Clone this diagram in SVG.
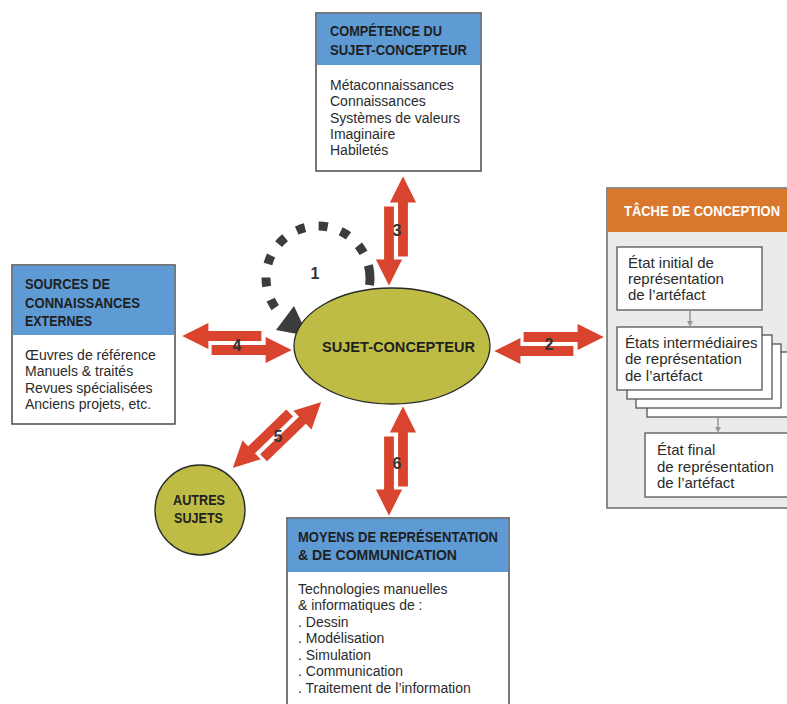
<svg xmlns="http://www.w3.org/2000/svg" xmlns:xlink="http://www.w3.org/1999/xlink" width="787" height="704" viewBox="0 0 787 704">
<style>
  .box{fill:#ffffff;stroke:#4a4a4a;stroke-width:1.5}
  .hdr{fill:#5e9ad3}
  .ht{font-family:"Liberation Sans",Arial,sans-serif;font-weight:bold;font-size:14px;fill:#1f1f1f}
  .bt{font-family:"Liberation Sans",Arial,sans-serif;font-size:14px;fill:#2b2b2b}
  .rt{font-family:"Liberation Sans",Arial,sans-serif;font-size:15px;fill:#2b2b2b}
  .num{font-family:"Liberation Sans",Arial,sans-serif;font-weight:bold;font-size:16px;fill:#333333;text-anchor:middle}
  .olive{fill:#bebc45;stroke:#2a2a2a;stroke-width:1.3}
  .red{fill:#d8442d;stroke:#ffffff;stroke-width:1.2}
  .inner{fill:#ffffff;stroke:#555555;stroke-width:1.3}
  .small{stroke:#9a9a9a;stroke-width:1.6;fill:none}
</style>
<defs>
  <g id="dbl">
    <polygon class="red" points="-26,-12.5 28,-12.5 28,-21 56,-7 28,7 28,-1.5 -26,-1.5"/>
    <polygon class="red" points="25,1.5 -28,1.5 -28,-7 -56,7 -28,21 -28,12.5 25,12.5"/>
  </g>
  <marker id="sm" markerWidth="6" markerHeight="6" refX="3" refY="3" orient="auto" markerUnits="userSpaceOnUse">
    <path d="M0,0 L6,3 L0,6 Z" fill="#9a9a9a"/>
  </marker>
</defs>
<rect width="787" height="704" fill="#ffffff"/>

<g id="connectors">
  <use xlink:href="#dbl" href="#dbl" transform="translate(549,344)"/>
  <use xlink:href="#dbl" href="#dbl" transform="matrix(0,-1,-1,0,396,231)"/>
  <use xlink:href="#dbl" href="#dbl" transform="translate(237,343) scale(1,-1)"/>
  <use xlink:href="#dbl" href="#dbl" transform="matrix(0.719,-0.695,-0.695,-0.719,277,435)"/>
  <use xlink:href="#dbl" href="#dbl" transform="matrix(0,-1,-1,0,396,461)"/>
  <g id="loop1">
    <path d="M369.5,285.2 A52,52 0 1 0 286,319" fill="none" stroke="#3c3c3c" stroke-width="9" stroke-dasharray="20 13.5 9 13.7 9 13.7 9 13.7 9 13.7 9 13.7 9 13.7 9 13.7 9 40"/>
    <polygon points="308,336 276,330 294,306" fill="#3c3c3c"/>
  </g>
  <text class="num" x="315" y="279">1</text>
  <text class="num" x="549" y="350">2</text>
  <text class="num" x="397" y="236">3</text>
  <text class="num" x="237" y="351">4</text>
  <text class="num" x="278" y="442">5</text>
  <text class="num" x="397" y="469">6</text>
</g>

<g id="sujet">
  <ellipse class="olive" cx="392" cy="346" rx="98" ry="58"/>
  <text class="ht" x="322" y="352" font-size="16" textLength="153" lengthAdjust="spacingAndGlyphs">SUJET-CONCEPTEUR</text>
</g>

<g id="autres">
  <circle class="olive" cx="200" cy="510" r="45"/>
  <text class="ht" x="173" y="505" textLength="52" lengthAdjust="spacingAndGlyphs">AUTRES</text>
  <text class="ht" x="174" y="523" textLength="49" lengthAdjust="spacingAndGlyphs">SUJETS</text>
</g>

<g id="competence">
  <rect class="box" x="316" y="13" width="165" height="158"/>
  <rect class="hdr" x="316.75" y="13.75" width="163.5" height="51.25"/>
  <text class="ht" x="330" y="36" textLength="112" lengthAdjust="spacingAndGlyphs">COMPÉTENCE DU</text>
  <text class="ht" x="330" y="55" textLength="137" lengthAdjust="spacingAndGlyphs">SUJET-CONCEPTEUR</text>
  <text class="bt" x="330" y="90" font-size="14.4">Métaconnaissances</text>
  <text class="bt" x="330" y="106" font-size="14.4">Connaissances</text>
  <text class="bt" x="330" y="123" font-size="14.4">Systèmes de valeurs</text>
  <text class="bt" x="330" y="139" font-size="14.4">Imaginaire</text>
  <text class="bt" x="330" y="155" font-size="14.4">Habiletés</text>
</g>

<g id="sources">
  <rect class="box" x="12" y="265" width="163" height="159"/>
  <rect class="hdr" x="12.75" y="265.75" width="161.5" height="69.25"/>
  <text class="ht" x="25" y="289" textLength="85" lengthAdjust="spacingAndGlyphs">SOURCES DE</text>
  <text class="ht" x="25" y="308" textLength="115" lengthAdjust="spacingAndGlyphs">CONNAISSANCES</text>
  <text class="ht" x="25" y="326" textLength="67" lengthAdjust="spacingAndGlyphs">EXTERNES</text>
  <text class="bt" x="25" y="360">Œuvres de référence</text>
  <text class="bt" x="25" y="376">Manuels &amp; traités</text>
  <text class="bt" x="25" y="393">Revues spécialisées</text>
  <text class="bt" x="25" y="409">Anciens projets, etc.</text>
</g>

<g id="moyens">
  <rect class="box" x="287" y="518" width="222" height="210"/>
  <rect class="hdr" x="287.75" y="518.75" width="220.5" height="53.25"/>
  <text class="ht" x="298" y="542" textLength="200" lengthAdjust="spacingAndGlyphs">MOYENS DE REPRÉSENTATION</text>
  <text class="ht" x="298" y="560" textLength="159" lengthAdjust="spacingAndGlyphs">&amp; DE COMMUNICATION</text>
  <text class="bt" x="298" y="594">Technologies manuelles</text>
  <text class="bt" x="298" y="610">&amp; informatiques de :</text>
  <text class="bt" x="298" y="627">. Dessin</text>
  <text class="bt" x="298" y="643">. Modélisation</text>
  <text class="bt" x="298" y="660">. Simulation</text>
  <text class="bt" x="298" y="676">. Communication</text>
  <text class="bt" x="298" y="693">. Traitement de l’information</text>
</g>

<g id="tache">
  <rect x="607" y="188" width="200" height="320" fill="#ebebeb" stroke="#6a6a6a" stroke-width="1.5"/>
  <rect x="607.75" y="188.75" width="199" height="43.25" fill="#d9782d"/>
  <text class="ht" x="624" y="216" font-size="12.5" style="fill:#ffffff" textLength="156" lengthAdjust="spacingAndGlyphs">TÂCHE DE CONCEPTION</text>
  <g id="etat-initial">
    <rect class="inner" x="617" y="247" width="145" height="63"/>
    <text class="rt" x="628" y="268">État initial de</text>
    <text class="rt" x="628" y="284">représentation</text>
    <text class="rt" x="628" y="300">de l’artéfact</text>
  </g>
  <g id="etats-intermediaires">
    <rect class="inner" x="647" y="352" width="160" height="65"/>
    <rect class="inner" x="636" y="344" width="145" height="64"/>
    <rect class="inner" x="627" y="335" width="145" height="64"/>
    <rect class="inner" x="617" y="327" width="145" height="63"/>
    <text class="rt" x="625" y="348">États intermédiaires</text>
    <text class="rt" x="625" y="364">de représentation</text>
    <text class="rt" x="625" y="381">de l’artéfact</text>
  </g>
  <g id="etat-final">
    <rect class="inner" x="645" y="433" width="160" height="64"/>
    <text class="rt" x="657" y="455">État final</text>
    <text class="rt" x="657" y="472">de représentation</text>
    <text class="rt" x="657" y="488">de l’artéfact</text>
  </g>
  <g id="tache-links">
    <path class="small" d="M690,311 V324" marker-end="url(#sm)"/>
    <path class="small" d="M718,418 V430" marker-end="url(#sm)"/>
  </g>
</g>
</svg>
